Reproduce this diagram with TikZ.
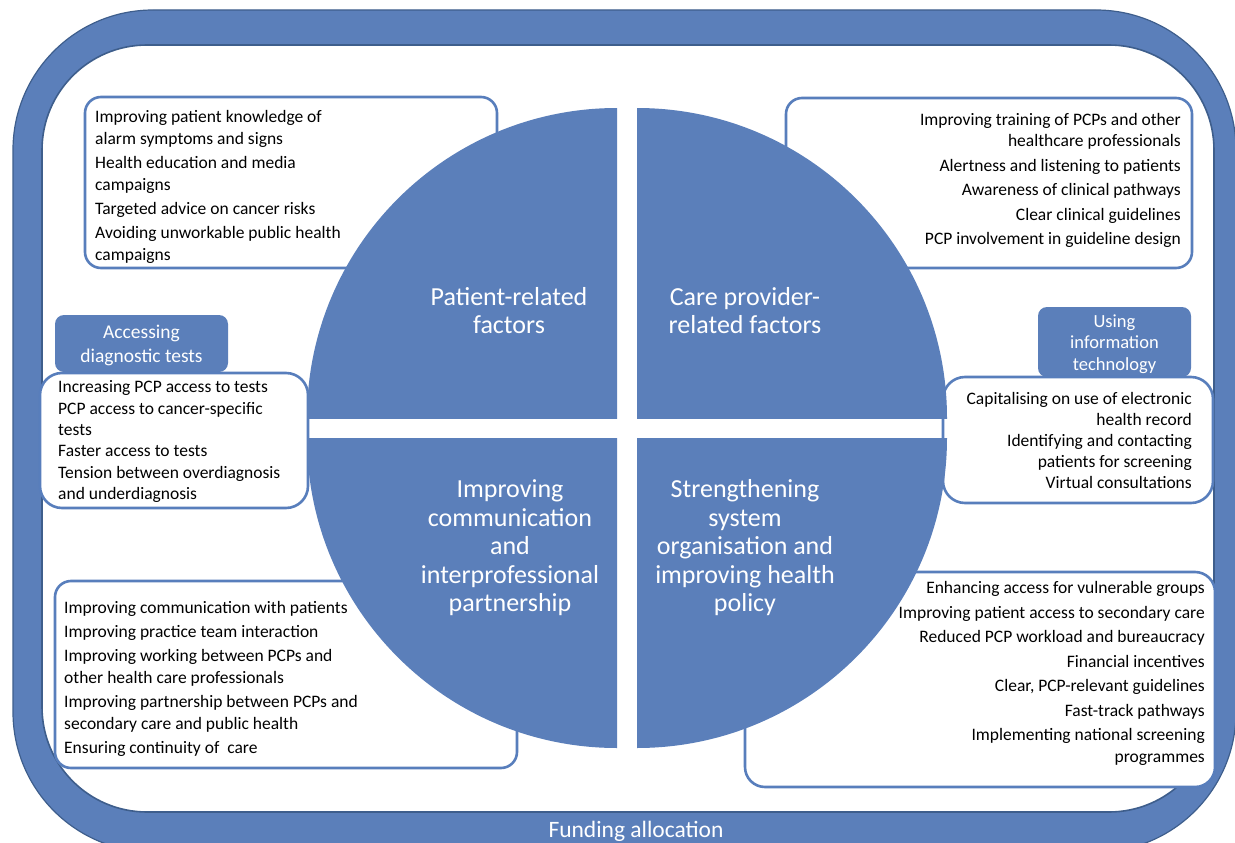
\documentclass[tikz,border=0pt]{standalone}
\usepackage{fontspec}
\setmainfont{Carlito}
\definecolor{qblue}{RGB}{91,127,186}
\definecolor{bandedge}{RGB}{62,94,140}
\definecolor{boxline}{RGB}{88,126,188}
\begin{document}
\begin{tikzpicture}[x=1pt,y=-1pt,
 wbox/.style={draw=boxline, line width=2.6pt, fill=white, rounded corners=16pt, inner sep=0pt},
 lbl/.style={fill=qblue, rounded corners=9pt, inner sep=0pt, text=white, align=center},
 item/.style={inner sep=0pt, text=black},
 title/.style={text=white, align=center, font=\fontsize{26}{28.5}\selectfont},
 quad/.style={fill=qblue}]
\useasboundingbox (0,0) rectangle (1235,843);
\fill[white] (0,0) rectangle (1235,843);
% funding frame
\draw[fill=qblue, draw=bandedge, line width=1.2pt, rounded corners=140pt] (13,10) rectangle (1236,852);
\draw[fill=white, draw=bandedge, line width=1.6pt, rounded corners=105pt] (42,45) rectangle (1214,812);
\node[text=white, font=\fontsize{23.5}{26}\selectfont] (fund) at (636,831) {Funding allocation};
% label boxes
\node[lbl, minimum width=173pt, minimum height=57pt] (l3) at (141.5,343.5) {};
\node[lbl, minimum width=153pt, minimum height=70pt] (l4) at (1114.5,342) {};
\node[text=white, align=center, font=\fontsize{19.5}{24}\selectfont] (l3t) at (141.5,345.5) {Accessing\\diagnostic tests};
\node[text=white, align=center, font=\fontsize{18.5}{21.5}\selectfont] (l4t) at (1114.5,344) {Using\\information\\technology};
% white boxes
\node[wbox, minimum width=412pt, minimum height=171pt] (b1) at (291,182.5) {};
\node[wbox, minimum width=406pt, minimum height=170pt] (b2) at (989,183) {};
\node[wbox, rounded corners=22pt, minimum width=268pt, minimum height=135pt] (b3) at (174,440.5) {};
\node[wbox, rounded corners=22pt, minimum width=270pt, minimum height=126pt] (b4) at (1078,440) {};
\node[wbox, minimum width=462pt, minimum height=187pt] (b5) at (286,674.5) {};
\node[wbox, rounded corners=20pt, minimum width=470pt, minimum height=215pt] (b6) at (980,679.5) {};
% box texts
\node[item, anchor=north west, align=left, font=\fontsize{17.5}{22}\selectfont] (t1) at (95,110.5)
 {Improving patient knowledge of\\alarm symptoms and signs\\[2pt]Health education and media\\campaigns\\[2pt]Targeted advice on cancer risks\\[2pt]Avoiding unworkable public health\\campaigns};
\node[item, anchor=north east, align=right, font=\fontsize{17.5}{21}\selectfont] (t2) at (1181,113.5)
 {Improving training of PCPs and other\\healthcare professionals\\[3.5pt]Alertness and listening to patients\\[3.5pt]Awareness of clinical pathways\\[3.5pt]Clear clinical guidelines\\[3.5pt]PCP involvement in guideline design};
\node[item, anchor=north west, align=left, font=\fontsize{17.5}{21.4}\selectfont] (t3) at (58,380.5)
 {Increasing PCP access to tests\\PCP access to cancer-specific\\tests\\Faster access to tests\\Tension between overdiagnosis\\and underdiagnosis};
\node[item, anchor=north east, align=right, font=\fontsize{17.5}{21}\selectfont] (t4) at (1192,392.5)
 {Capitalising on use of electronic\\health record\\Identifying and contacting\\patients for screening\\Virtual consultations};
\node[item, anchor=north west, align=left, font=\fontsize{17.5}{22}\selectfont] (t5) at (64,601.5)
 {Improving communication with patients\\[2pt]Improving practice team interaction\\[2pt]Improving working between PCPs and\\other health care professionals\\[2pt]Improving partnership between PCPs and\\secondary care and public health\\[2pt]Ensuring continuity of~ care};
\node[item, anchor=north east, align=right, font=\fontsize{17.5}{22}\selectfont] (t6) at (1205,581.5)
 {Enhancing access for vulnerable groups\\[2.5pt]Improving patient access to secondary care\\[2.5pt]Reduced PCP workload and bureaucracy\\[2.5pt]Financial incentives\\[2.5pt]Clear, PCP-relevant guidelines\\[2.5pt]Fast-track pathways\\[2.5pt]Implementing national screening\\programmes};
% quadrants
\begin{scope}
\clip (307,108) rectangle (617,418);
\fill[quad] (617,418) circle[radius=310pt];
\end{scope}
\begin{scope}
\clip (637,108) rectangle (947,418);
\fill[quad] (637,418) circle[radius=310pt];
\end{scope}
\begin{scope}
\clip (307,438) rectangle (617,748);
\fill[quad] (617,438) circle[radius=310pt];
\end{scope}
\begin{scope}
\clip (637,438) rectangle (947,748);
\fill[quad] (637,438) circle[radius=310pt];
\end{scope}
% quadrant titles
\node[title] (q1) at (509,310.5) {Patient-related\\factors};
\node[title] (q2) at (745,310.5) {Care provider-\\related factors};
\node[title] (q3) at (510,548) {Improving\\communication\\and\\interprofessional\\partnership};
\node[title] (q4) at (745,548) {Strengthening\\system\\organisation and\\improving health\\policy};
\end{tikzpicture}
\end{document}
